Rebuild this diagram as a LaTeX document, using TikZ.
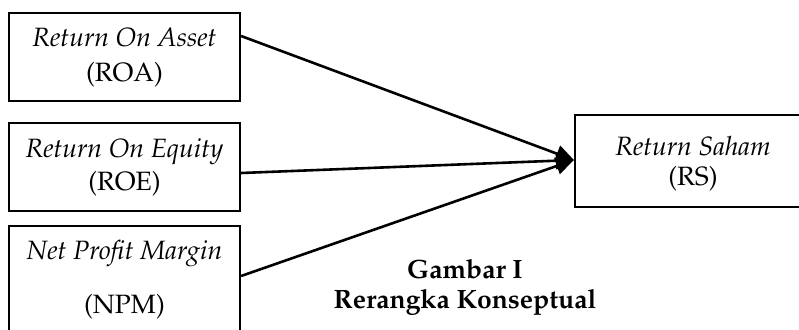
\documentclass[tikz,border=0pt]{standalone}
\usepackage[T1]{fontenc}
\usepackage{mathpazo}
\usetikzlibrary{arrows.meta}
\tikzset{
  boxnode/.style={draw=black, line width=2.2pt, rectangle, inner sep=0pt},
  lbl/.style={anchor=base, inner sep=0pt, font=\fontsize{26.5}{30}\selectfont},
  captext/.style={anchor=base, inner sep=0pt, font=\fontsize{26.5}{30}\selectfont\bfseries},
  arr/.style={line width=2.6pt, -{Triangle[length=18pt,width=17pt]}, shorten >=0pt}
}
\begin{document}
\begin{tikzpicture}[x=1pt,y=-1pt]
\useasboundingbox (0,0) rectangle (799,329);
% boxes
\node[boxnode, minimum width=231pt, minimum height=88pt] (roa) at (124.5,57) {};
\node[boxnode, minimum width=231pt, minimum height=88pt] (roe) at (124.5,167) {};
\node[boxnode, minimum width=231pt, minimum height=114pt] (npm) at (124.5,283) {};
\node[boxnode, minimum width=228pt, minimum height=92pt] (rs) at (689,161) {};
% texts
\node[lbl] (t1a) at (124.5,47) {\itshape Return On Asset};
\node[lbl] (t1b) at (124.5,81) {(ROA)};
\node[lbl] (t2a) at (124.5,157) {\itshape Return On Equity};
\node[lbl] (t2b) at (124.5,190) {(ROE)};
\node[lbl] (t3a) at (124.5,259) {\itshape Net Profit Margin};
\node[lbl] (t3b) at (124.5,313) {(NPM)};
\node[lbl] (t4a) at (693,155) {\itshape Return Saham};
\node[lbl] (t4b) at (693,185) {(RS)};
\node[captext] (c1) at (465,278) {Gambar I};
\node[captext] (c2) at (465,308) {Rerangka Konseptual};
% arrows
\coordinate (tip) at ([yshift=1pt]rs.west);
\draw[arr] ([yshift=21pt]roa.east) -- (tip);
\draw[arr] ([yshift=-6pt]roe.east) -- (tip);
\draw[arr] ([yshift=7pt]npm.east) -- (tip);
\end{tikzpicture}
\end{document}
